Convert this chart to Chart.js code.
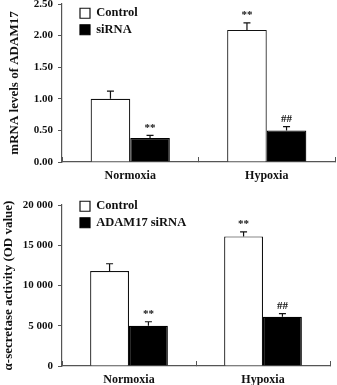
<!DOCTYPE html>
<html>
<head>
<meta charset="utf-8">
<script src="https://cdn.jsdelivr.net/npm/chart.js@4.4.1/dist/chart.umd.min.js"></script>
<style>
html, body { margin: 0; padding: 0; background: #fff; }
canvas { display: block; }
</style>
</head>
<body>
<canvas id="mrnaChart" width="337" height="190"></canvas>
<canvas id="activityChart" width="337" height="195"></canvas>
<script>
// shared categories
const categories = ['Normoxia', 'Hypoxia'];

// top panel: mRNA levels of ADAM17
const mrnaControl = [1.00, 2.09];
const mrnaControlErr = [0.12, 0.11];
const mrnaControlMarks = ['', '**'];
const mrnaSirna = [0.38, 0.50];
const mrnaSirnaErr = [0.04, 0.06];
const mrnaSirnaMarks = ['**', '##'];
const mrnaTicks = [0, 0.5, 1.0, 1.5, 2.0, 2.5];

// bottom panel: alpha-secretase activity
const activityControl = [11800, 16100];
const activityControlErr = [900, 560];
const activityControlMarks = ['', '**'];
const activitySirna = [5000, 6120];
const activitySirnaErr = [500, 380];
const activitySirnaMarks = ['**', '##'];
const activityTicks = [0, 5000, 10000, 15000, 20000];

const serif = '"Liberation Serif", "Times New Roman", serif';
const ink = '#111';
const axisGrey = '#555';

// error bars (upper half only) plus significance marks above them
const errorBars = {
    id: 'errorBars',
    afterDatasetsDraw(chart) {
        const ctx = chart.ctx;
        const yScale = chart.scales.y;
        chart.data.datasets.forEach((ds, i) => {
            const meta = chart.getDatasetMeta(i);
            meta.data.forEach((bar, j) => {
                const top = yScale.getPixelForValue(ds.data[j] + ds.errors[j]);
                ctx.save();
                ctx.strokeStyle = ink;
                ctx.lineWidth = 1.2;
                ctx.beginPath();
                ctx.moveTo(bar.x, bar.y);
                ctx.lineTo(bar.x, top);
                ctx.moveTo(bar.x - 3.5, top);
                ctx.lineTo(bar.x + 3.5, top);
                ctx.stroke();
                if (ds.marks[j]) {
                    ctx.fillStyle = ink;
                    ctx.font = 'bold 11px ' + serif;
                    ctx.textAlign = 'center';
                    ctx.textBaseline = 'bottom';
                    ctx.fillText(ds.marks[j], bar.x, top - 2);
                }
                ctx.restore();
            });
        });
    }
};

// nudge the in-chart legend away from the axes
const legendShift = {
    id: 'legendShift',
    afterLayout(chart, args, opts) {
        const l = chart.legend;
        l.left += opts.x; l.right += opts.x;
        l.top += opts.y; l.bottom += opts.y;
    }
};

function makeChart(id, cfg) {
    const ctx = document.getElementById(id).getContext('2d');
    return new Chart(ctx, {
        type: 'bar',
        data: {
            labels: categories,
            datasets: [{
                label: 'Control',
                data: cfg.control,
                errors: cfg.controlErr,
                marks: cfg.controlMarks,
                backgroundColor: '#ffffff',
                borderColor: ink,
                borderWidth: 1.2,
                borderSkipped: 'bottom'
            }, {
                label: cfg.sirnaLabel,
                data: cfg.sirna,
                errors: cfg.sirnaErr,
                marks: cfg.sirnaMarks,
                backgroundColor: '#000000',
                borderColor: '#000000',
                borderWidth: 1.2,
                borderSkipped: 'bottom'
            }]
        },
        options: {
            responsive: false,
            animation: false,
            layout: { padding: cfg.padding },
            categoryPercentage: 0.58,
            barPercentage: 1.0,
            plugins: {
                tooltip: { enabled: false },
                legend: {
                    position: 'chartArea',
                    align: 'start',
                    labels: {
                        color: ink,
                        font: { family: serif, size: 12.5, weight: 'bold' },
                        boxWidth: 10,
                        boxHeight: 10,
                        padding: 4
                    }
                },
                legendShift: cfg.legendShift
            },
            scales: {
                x: {
                    border: { color: axisGrey, width: 1.2 },
                    grid: { drawOnChartArea: false, tickLength: -5, color: axisGrey },
                    ticks: {
                        color: ink,
                        padding: 12,
                        font: { family: serif, size: 12, weight: 'bold' }
                    },
                    afterFit(scale) { scale.height = cfg.xHeight; }
                },
                y: {
                    min: 0,
                    max: cfg.ticks[cfg.ticks.length - 1],
                    border: { color: axisGrey, width: 1.2 },
                    grid: { drawOnChartArea: false, tickLength: 4, color: axisGrey },
                    afterBuildTicks(scale) { scale.ticks = cfg.ticks.map(v => ({ value: v })); },
                    ticks: {
                        color: ink,
                        padding: 5,
                        font: { family: serif, size: 11, weight: 'bold' },
                        callback: cfg.format
                    },
                    title: {
                        display: true,
                        text: cfg.title,
                        color: ink,
                        padding: cfg.titlePadding,
                        font: { family: serif, size: 13, weight: 'bold' }
                    },
                    afterFit(scale) {
                        scale.width = 62;
                        scale.paddingTop = 0;
                        scale.paddingBottom = 0;
                    }
                }
            }
        },
        plugins: [errorBars, legendShift]
    });
}

makeChart('mrnaChart', {
    control: mrnaControl, controlErr: mrnaControlErr, controlMarks: mrnaControlMarks,
    sirna: mrnaSirna, sirnaErr: mrnaSirnaErr, sirnaMarks: mrnaSirnaMarks,
    sirnaLabel: 'siRNA',
    ticks: mrnaTicks,
    format: v => v.toFixed(2),
    title: 'mRNA levels of ADAM17',
    titlePadding: { top: 7, bottom: 0 },
    padding: { top: 4, right: 2, bottom: 0, left: 0 },
    xHeight: 28,
    legendShift: { x: 14, y: 3 }
});

makeChart('activityChart', {
    control: activityControl, controlErr: activityControlErr, controlMarks: activityControlMarks,
    sirna: activitySirna, sirnaErr: activitySirnaErr, sirnaMarks: activitySirnaMarks,
    sirnaLabel: 'ADAM17 siRNA',
    ticks: activityTicks,
    format: v => String(v).replace(/\B(?=(\d{3})+(?!\d))/g, ' '),
    title: 'α-secretase activity (OD value)',
    titlePadding: { top: 1, bottom: 0 },
    padding: { top: 15, right: 7, bottom: 0, left: 0 },
    xHeight: 19,
    legendShift: { x: 14, y: 6 }
});
</script>
</body>
</html>
